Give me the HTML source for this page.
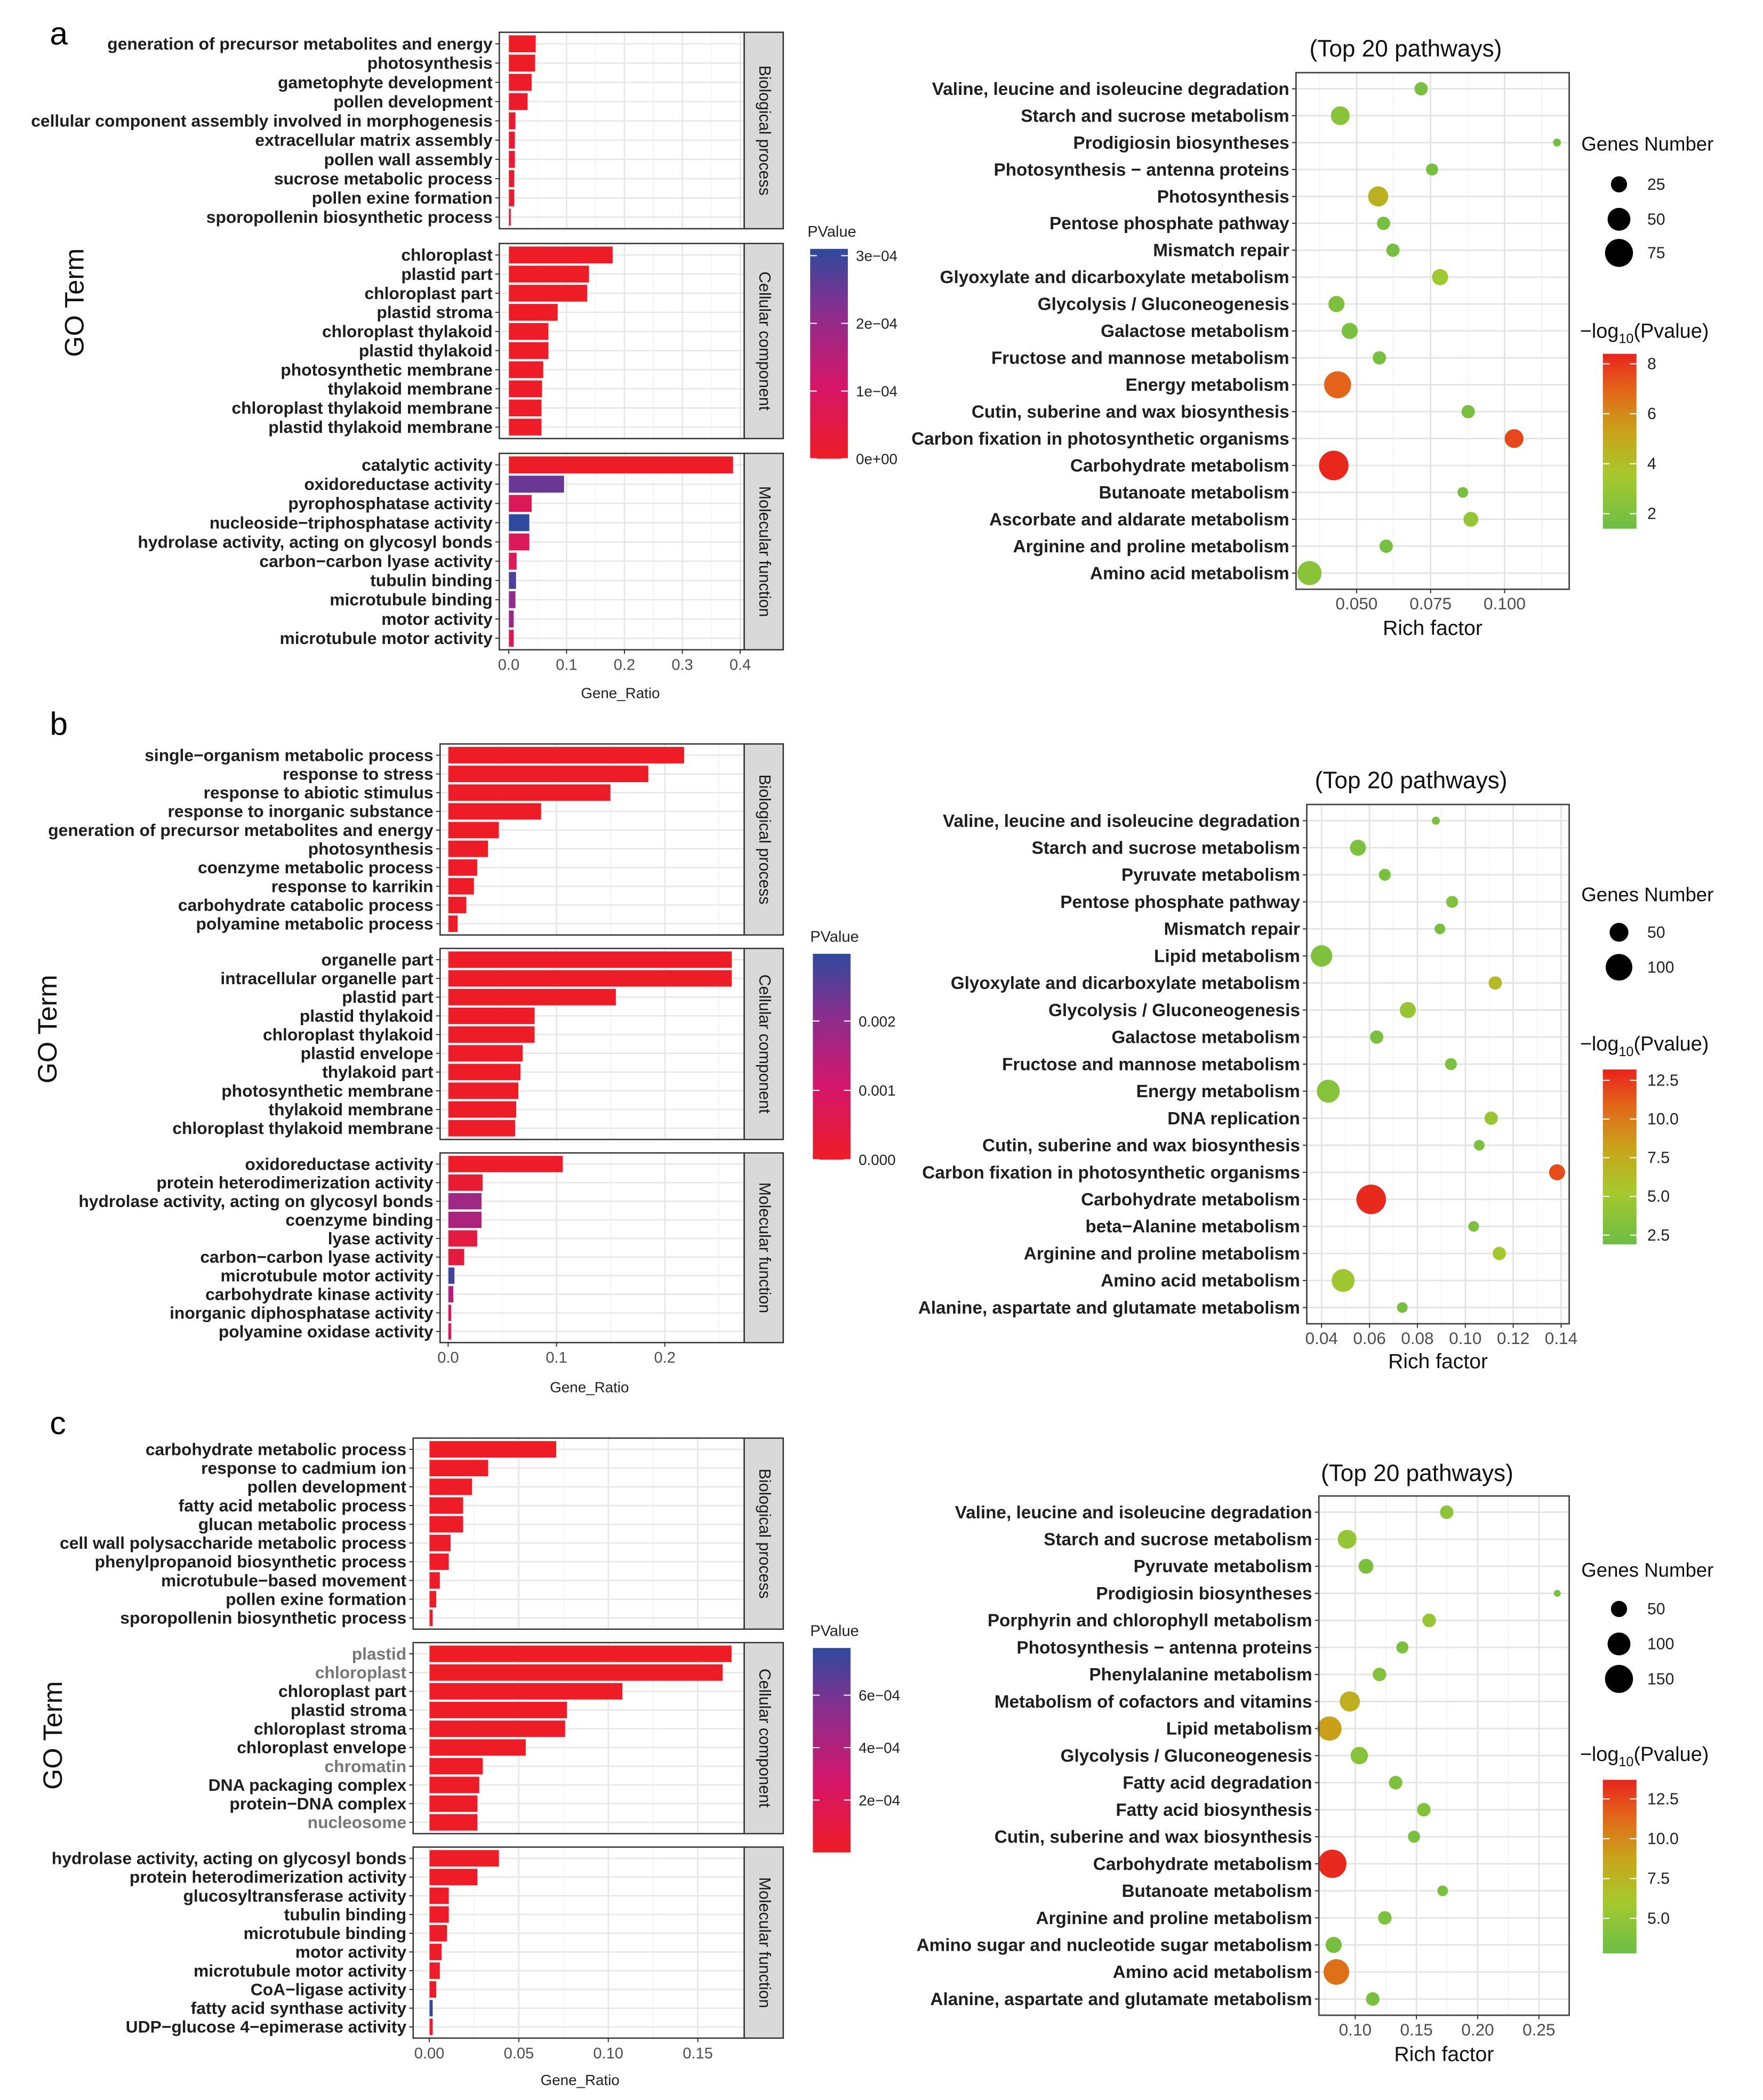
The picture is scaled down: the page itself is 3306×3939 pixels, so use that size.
<!DOCTYPE html>
<html><head><meta charset="utf-8"><style>
html,body{margin:0;padding:0;background:#fff}
svg{display:block}
text{font-family:"Liberation Sans",sans-serif}
</style></head><body>
<svg id="fig" xmlns="http://www.w3.org/2000/svg" width="3306" height="3939" viewBox="0 0 1310 1561" preserveAspectRatio="none">
<defs>
<linearGradient id="pgrad" x1="0" y1="1" x2="0" y2="0">
<stop offset="0" stop-color="#ee1c25"/><stop offset="0.35" stop-color="#d4166a"/><stop offset="0.7" stop-color="#8a2e8e"/><stop offset="1" stop-color="#2e4a9e"/></linearGradient>
<linearGradient id="lgrad" x1="0" y1="1" x2="0" y2="0">
<stop offset="0" stop-color="#6cbd45"/><stop offset="0.3" stop-color="#a6c92d"/><stop offset="0.55" stop-color="#c8a41a"/><stop offset="0.8" stop-color="#e3641a"/><stop offset="1" stop-color="#e8231d"/></linearGradient>
</defs>
<text x="37" y="33" font-size="24">a</text>
<text x="37" y="546" font-size="24">b</text>
<text x="37" y="1066" font-size="24">c</text>
</svg>
<script>
// ---------- Panel a bar data ----------
const aBpTerms=["generation of precursor metabolites and energy","photosynthesis","gametophyte development","pollen development","cellular component assembly involved in morphogenesis","extracellular matrix assembly","pollen wall assembly","sucrose metabolic process","pollen exine formation","sporopollenin biosynthetic process"];
const aBpRatio=[0.047,0.046,0.040,0.033,0.012,0.011,0.011,0.010,0.010,0.004];
const aBpP=[0.000002,0.000003,0.000005,0.00001,0.00002,0.00002,0.00002,0.00002,0.00002,0.00003];
const aCcTerms=["chloroplast","plastid part","chloroplast part","plastid stroma","chloroplast thylakoid","plastid thylakoid","photosynthetic membrane","thylakoid membrane","chloroplast thylakoid membrane","plastid thylakoid membrane"];
const aCcRatio=[0.180,0.139,0.136,0.085,0.069,0.069,0.060,0.058,0.057,0.057];
const aCcP=[0.000001,0.000001,0.000001,0.000002,0.000003,0.000003,0.000004,0.000004,0.000004,0.000004];
const aMfTerms=["catalytic activity","oxidoreductase activity","pyrophosphatase activity","nucleoside\u2212triphosphatase activity","hydrolase activity, acting on glycosyl bonds","carbon\u2212carbon lyase activity","tubulin binding","microtubule binding","motor activity","microtubule motor activity"];
const aMfRatio=[0.388,0.096,0.040,0.036,0.036,0.014,0.013,0.012,0.009,0.009];
const aMfP=[0.000001,0.00025,0.00008,0.00031,0.00008,0.00008,0.00028,0.00021,0.00019,0.00007];
const aBarTicks=[0,0.1,0.2,0.3,0.4];
const aBarTickLabels=["0.0","0.1","0.2","0.3","0.4"];
const aLegTicks=[0.0003,0.0002,0.0001,0];
const aLegLabels=["3e\u221204","2e\u221204","1e\u221204","0e+00"];
// ---------- Panel b bar data ----------
const bBpTerms=["single\u2212organism metabolic process","response to stress","response to abiotic stimulus","response to inorganic substance","generation of precursor metabolites and energy","photosynthesis","coenzyme metabolic process","response to karrikin","carbohydrate catabolic process","polyamine metabolic process"];
const bBpRatio=[0.218,0.185,0.150,0.086,0.047,0.037,0.027,0.024,0.017,0.009];
const bBpP=[0.00001,0.00002,0.00002,0.00003,0.00002,0.00003,0.00004,0.00004,0.00005,0.00006];
const bCcTerms=["organelle part","intracellular organelle part","plastid part","plastid thylakoid","chloroplast thylakoid","plastid envelope","thylakoid part","photosynthetic membrane","thylakoid membrane","chloroplast thylakoid membrane"];
const bCcRatio=[0.262,0.262,0.155,0.080,0.080,0.069,0.067,0.065,0.063,0.062];
const bCcP=[0.00001,0.00001,0.00001,0.00002,0.00002,0.00003,0.00003,0.00003,0.00003,0.00003];
const bMfTerms=["oxidoreductase activity","protein heterodimerization activity","hydrolase activity, acting on glycosyl bonds","coenzyme binding","lyase activity","carbon\u2212carbon lyase activity","microtubule motor activity","carbohydrate kinase activity","inorganic diphosphatase activity","polyamine oxidase activity"];
const bMfRatio=[0.106,0.032,0.031,0.031,0.027,0.015,0.006,0.005,0.003,0.003];
const bMfP=[0.00005,0.0002,0.0018,0.0016,0.0004,0.0004,0.0028,0.0016,0.0008,0.0008];
const bBarTicks=[0,0.1,0.2];
const bBarTickLabels=["0.0","0.1","0.2"];
const bLegTicks=[0.002,0.001,0];
const bLegLabels=["0.002","0.001","0.000"];
// ---------- Panel c bar data ----------
const cBpTerms=["carbohydrate metabolic process","response to cadmium ion","pollen development","fatty acid metabolic process","glucan metabolic process","cell wall polysaccharide metabolic process","phenylpropanoid biosynthetic process","microtubule\u2212based movement","pollen exine formation","sporopollenin biosynthetic process"];
const cBpRatio=[0.071,0.033,0.024,0.019,0.019,0.012,0.011,0.006,0.004,0.002];
const cBpP=[0.000001,0.000003,0.000005,0.000008,0.000008,0.00001,0.00001,0.00002,0.00002,0.00003];
const cCcTerms=["plastid","chloroplast","chloroplast part","plastid stroma","chloroplast stroma","chloroplast envelope","chromatin","DNA packaging complex","protein\u2212DNA complex","nucleosome"];
const cCcRatio=[0.169,0.164,0.108,0.077,0.076,0.054,0.030,0.028,0.027,0.027];
const cCcP=[0.000001,0.000001,0.000002,0.000003,0.000003,0.000004,0.000005,0.000005,0.000005,0.000005];
const cMfTerms=["hydrolase activity, acting on glycosyl bonds","protein heterodimerization activity","glucosyltransferase activity","tubulin binding","microtubule binding","motor activity","microtubule motor activity","CoA\u2212ligase activity","fatty acid synthase activity","UDP\u2212glucose 4\u2212epimerase activity"];
const cMfRatio=[0.039,0.027,0.011,0.011,0.010,0.007,0.006,0.004,0.002,0.002];
const cMfP=[0.000003,0.000005,0.00001,0.00001,0.00001,0.00002,0.00002,0.00003,0.00075,0.00003];
const cBarTicks=[0,0.05,0.1,0.15];
const cBarTickLabels=["0.00","0.05","0.10","0.15"];
const cLegTicks=[0.0006,0.0004,0.0002];
const cLegLabels=["6e\u221204","4e\u221204","2e\u221204"];

// ---------- Dot plot data ----------
const aPathways=["Valine, leucine and isoleucine degradation","Starch and sucrose metabolism","Prodigiosin biosyntheses","Photosynthesis \u2212 antenna proteins","Photosynthesis","Pentose phosphate pathway","Mismatch repair","Glyoxylate and dicarboxylate metabolism","Glycolysis / Gluconeogenesis","Galactose metabolism","Fructose and mannose metabolism","Energy metabolism","Cutin, suberine and wax biosynthesis","Carbon fixation in photosynthetic organisms","Carbohydrate metabolism","Butanoate metabolism","Ascorbate and aldarate metabolism","Arginine and proline metabolism","Amino acid metabolism"];
const aRich=[0.0718,0.0445,0.1177,0.0755,0.0573,0.0591,0.0623,0.0782,0.0432,0.0477,0.0577,0.0436,0.0877,0.1032,0.0423,0.0859,0.0886,0.0600,0.0341];
const aGenes=[17,34,6,14,39,17,17,25,25,25,17,70,17,34,84,11,21,17,56];
const aLogP=[1.8,2.4,1.6,1.8,4.6,1.8,1.8,3.3,2.0,1.9,1.8,7.0,1.9,7.6,8.3,1.8,2.8,1.8,2.5];
const aRichTicks=[0.05,0.075,0.1];
const aRichLabels=["0.050","0.075","0.100"];
const aSizeLeg=[25,50,75];
const aColorTicks=[8,6,4,2];
const bPathways=["Valine, leucine and isoleucine degradation","Starch and sucrose metabolism","Pyruvate metabolism","Pentose phosphate pathway","Mismatch repair","Lipid metabolism","Glyoxylate and dicarboxylate metabolism","Glycolysis / Gluconeogenesis","Galactose metabolism","Fructose and mannose metabolism","Energy metabolism","DNA replication","Cutin, suberine and wax biosynthesis","Carbon fixation in photosynthetic organisms","Carbohydrate metabolism","beta\u2212Alanine metabolism","Arginine and proline metabolism","Amino acid metabolism","Alanine, aspartate and glutamate metabolism"];
const bRich=[0.0877,0.0552,0.0664,0.0945,0.0894,0.0400,0.1125,0.0760,0.0630,0.0940,0.0428,0.1108,0.1058,0.1383,0.0607,0.1035,0.1142,0.0490,0.0737];
const bGenes=[9,36,20,20,16,65,25,36,25,20,74,25,16,36,123,16,25,74,16];
const bLogP=[2.8,2.9,2.7,3.0,2.6,3.0,6.5,4.3,2.7,2.8,3.5,4.5,2.8,11.8,13.0,2.8,5.0,4.8,2.6];
const bRichTicks=[0.04,0.06,0.08,0.10,0.12,0.14];
const bRichLabels=["0.04","0.06","0.08","0.10","0.12","0.14"];
const bSizeLeg=[50,100];
const bColorTicks=[12.5,10,7.5,5,2.5];
const cPathways=["Valine, leucine and isoleucine degradation","Starch and sucrose metabolism","Pyruvate metabolism","Prodigiosin biosyntheses","Porphyrin and chlorophyll metabolism","Photosynthesis \u2212 antenna proteins","Phenylalanine metabolism","Metabolism of cofactors and vitamins","Lipid metabolism","Glycolysis / Gluconeogenesis","Fatty acid degradation","Fatty acid biosynthesis","Cutin, suberine and wax biosynthesis","Carbohydrate metabolism","Butanoate metabolism","Arginine and proline metabolism","Amino sugar and nucleotide sugar metabolism","Amino acid metabolism","Alanine, aspartate and glutamate metabolism"];
const cRich=[0.1747,0.0934,0.1088,0.2650,0.1604,0.1385,0.1198,0.0956,0.0790,0.1033,0.1330,0.1560,0.1480,0.0813,0.1714,0.1242,0.0824,0.0846,0.1143];
const cGenes=[35,68,42,9,35,28,35,78,112,58,35,35,28,153,22,35,50,125,35];
const cLogP=[4.6,5.0,3.6,3.6,5.2,3.6,4.0,8.0,9.0,4.3,3.8,4.0,3.6,13.5,3.6,3.8,3.4,11.0,3.6];
const cRichTicks=[0.10,0.15,0.20,0.25];
const cRichLabels=["0.10","0.15","0.20","0.25"];
const cSizeLeg=[50,100,150];
const cColorTicks=[12.5,10,7.5,5];

const NS="http://www.w3.org/2000/svg";
const svg=document.getElementById('fig');
function mk(tag,attrs,parent){const e=document.createElementNS(NS,tag);for(const k in attrs)e.setAttribute(k,attrs[k]);(parent||svg).appendChild(e);return e;}
function hex(c){return [parseInt(c.slice(1,3),16),parseInt(c.slice(3,5),16),parseInt(c.slice(5,7),16)];}
function ramp(stops,t){t=Math.max(0,Math.min(1,t));for(let i=1;i<stops.length;i++){if(t<=stops[i][0]){const a=stops[i-1],b=stops[i];const f=(t-a[0])/(b[0]-a[0]);const ca=hex(a[1]),cb=hex(b[1]);return 'rgb('+ca.map((v,j)=>Math.round(v+(cb[j]-v)*f)).join(',')+')';}}return stops[stops.length-1][1];}
const pStops=[[0,'#ee1c25'],[0.35,'#d4166a'],[0.7,'#8a2e8e'],[1,'#2e4a9e']];
const lStops=[[0,'#6cbd45'],[0.3,'#a6c92d'],[0.55,'#c8a41a'],[0.8,'#e3641a'],[1,'#e8231d']];
const greyTerms=["plastid","chloroplast","chromatin","nucleosome"];

function barFacet(g,name,strip,terms,ratios,pvals,box,zeroX,ppu,ticks,pmax,showGrey){
  const grp=mk('g',{},g);
  
  
  mk('rect',{x:box.x0,y:box.y0,width:box.x1-box.x0,height:box.y1-box.y0,fill:'#fff'},grp);
  const step=(ticks[1]-ticks[0]);
  for(let v=ticks[0]-step/2;;v+=step/2){const x=zeroX+v*ppu;if(x>box.x1)break;if(x<box.x0)continue;
    const major=Math.abs(Math.round(v/step)*step-v)<1e-9;
    mk('line',{x1:x,x2:x,y1:box.y0,y2:box.y1,stroke:major?'#e6e6e6':'#f2f2f2','stroke-width':major?1:0.6},grp);}
  const h=(box.y1-box.y0)/(terms.length-1+1.2);
  terms.forEach((t,i)=>{
    const y=box.y0+(0.6+i)*h;
    mk('line',{x1:box.x0,x2:box.x1,y1:y,y2:y,stroke:'#e6e6e6','stroke-width':1},grp);
    const r=mk('rect',{x:zeroX,y:y-h*0.45,width:Math.max(0.5,ratios[i]*ppu),height:h*0.9,fill:ramp(pStops,pvals[i]/pmax),stroke:'#fff','stroke-width':0.3},grp);
    
    
    mk('line',{x1:box.x0-3,x2:box.x0,y1:y,y2:y,stroke:'#333','stroke-width':0.8},grp);
    const tx=mk('text',{x:box.x0-5,y:y+4.3,'font-size':12.6,'font-weight':'bold','text-anchor':'end',fill:(showGrey&&greyTerms.includes(t))?'#777':'#1e1e1e'},grp);
    tx.textContent=t;
    
    
  });
  mk('rect',{x:box.x0,y:box.y0,width:box.x1-box.x0,height:box.y1-box.y0,fill:'none',stroke:'#333','stroke-width':1},grp);
  const sx=box.x1, sw=29;
  const sr=mk('rect',{x:sx,y:box.y0,width:sw,height:box.y1-box.y0,fill:'#d9d9d9',stroke:'#333','stroke-width':1},grp);
  
  
  const cy=(box.y0+box.y1)/2, cx=sx+sw/2;
  const st=mk('text',{x:cx,y:cy,'font-size':12,'text-anchor':'middle',fill:'#1a1a1a',transform:'rotate(90 '+cx+' '+cy+')','dominant-baseline':'middle'},grp);
  st.textContent=strip;
  
  
}
function barPanel(id,facets,x0,x1,zeroX,ppu,ticks,tickLabels,pmax,legX,legY0,legY1,legTicks,legLabels,goX,goY,ratioX,ratioY,showGrey){
  const g=mk('g',{});
  
  
  const strips=["Biological process","Cellular component","Molecular function"];
  facets.forEach((f,k)=>barFacet(g,id+'-'+k,strips[k],f[0],f[1],f[2],{x0:x0,x1:x1,y0:f[3],y1:f[4]},zeroX,ppu,ticks,pmax,showGrey));
  const yb=facets[2][4];
  ticks.forEach((v,i)=>{const x=zeroX+v*ppu;
    mk('line',{x1:x,x2:x,y1:yb,y2:yb+3,stroke:'#333','stroke-width':0.8},g);
    const t=mk('text',{x:x,y:yb+15,'font-size':11.5,'text-anchor':'middle',fill:'#4d4d4d'},g);t.textContent=tickLabels[i];
    
    });
  const xt=mk('text',{x:ratioX,y:ratioY,'font-size':11,'text-anchor':'middle',fill:'#222'},g);xt.textContent='Gene_Ratio';
  
  
  const gt=mk('text',{x:goX,y:goY,'font-size':20,'text-anchor':'middle',fill:'#111',transform:'rotate(-90 '+goX+' '+goY+')'},g);gt.textContent='GO Term';
  
  
  const lg=mk('g',{},g);
  
  
  const lt=mk('text',{x:legX-2,y:legY0-9,'font-size':11.5,fill:'#222'},lg);lt.textContent='PValue';
  mk('rect',{x:legX,y:legY0,width:28,height:legY1-legY0,fill:'url(#pgrad)'},lg);
  legTicks.forEach((v,i)=>{const y=legY1-(v/pmax)*(legY1-legY0);
    mk('line',{x1:legX,x2:legX+5,y1:y,y2:y,stroke:'#fff','stroke-width':0.8},lg);
    mk('line',{x1:legX+23,x2:legX+28,y1:y,y2:y,stroke:'#fff','stroke-width':0.8},lg);
    const t=mk('text',{x:legX+34,y:y+4,'font-size':11,fill:'#222'},lg);t.textContent=legLabels[i];});
}
barPanel('a',[[aBpTerms,aBpRatio,aBpP,24,170],[aCcTerms,aCcRatio,aCcP,181,326],[aMfTerms,aMfRatio,aMfP,337,483]],371,553,378,430,aBarTicks,aBarTickLabels,0.00031,602,185,341,aLegTicks,aLegLabels,62,225,461,519,false);
barPanel('b',[[bBpTerms,bBpRatio,bBpP,553,695],[bCcTerms,bCcRatio,bCcP,705,847],[bMfTerms,bMfRatio,bMfP,857,998]],327,553,333,805,bBarTicks,bBarTickLabels,0.00297,604,709,862,bLegTicks,bLegLabels,42,765,438,1035,false);
barPanel('c',[[cBpTerms,cBpRatio,cBpP,1069,1211],[cCcTerms,cCcRatio,cCcP,1221,1363],[cMfTerms,cMfRatio,cMfP,1373,1515]],307,553,319,1330,cBarTicks,cBarTickLabels,0.00078,604,1225,1377,cLegTicks,cLegLabels,46,1290,431,1550,true);

function dotPlot(id,terms,rich,genes,logp,box,v0,x0px,ppu,ticks,tickLabels,sizeK,sizeLeg,sizeLegY,cMin,cMax,cTicks,legX,cLegY0,cLegY1,titleY,rfY,gnY,lpY,cTickFmt){
  const g=mk('g',{});
  
  
  const X=v=>x0px+(v-v0)*ppu;
  mk('rect',{x:box.x0,y:box.y0,width:box.x1-box.x0,height:box.y1-box.y0,fill:'#fff'},g);
  const step=ticks[1]-ticks[0];
  for(let v=ticks[0]-step*1.5;v<ticks[ticks.length-1]+step*2;v+=step/2){const x=X(v);if(x<box.x0||x>box.x1)continue;
    const major=Math.abs(Math.round((v-ticks[0])/step)*step-(v-ticks[0]))<1e-9;
    mk('line',{x1:x,x2:x,y1:box.y0,y2:box.y1,stroke:major?'#e3e3e3':'#f1f1f1','stroke-width':major?1.1:0.6},g);}
  const h=(box.y1-box.y0)/(terms.length-1+1.2);
  terms.forEach((t,i)=>{const y=box.y0+(0.6+i)*h;
    mk('line',{x1:box.x0,x2:box.x1,y1:y,y2:y,stroke:'#e3e3e3','stroke-width':1.1},g);
    mk('line',{x1:box.x0-3,x2:box.x0,y1:y,y2:y,stroke:'#333','stroke-width':0.8},g);
    const tx=mk('text',{x:box.x0-5,y:y+4.5,'font-size':13.2,'font-weight':'bold','text-anchor':'end',fill:'#1e1e1e'},g);tx.textContent=t;
    
    });
  terms.forEach((t,i)=>{const y=box.y0+(0.6+i)*h;
    const c=mk('circle',{cx:X(rich[i]),cy:y,r:sizeK*Math.sqrt(genes[i]),fill:ramp(lStops,(logp[i]-cMin)/(cMax-cMin))},g);
    
    });
  mk('rect',{x:box.x0,y:box.y0,width:box.x1-box.x0,height:box.y1-box.y0,fill:'none',stroke:'#444','stroke-width':1.1},g);
  ticks.forEach((v,i)=>{const x=X(v);
    mk('line',{x1:x,x2:x,y1:box.y1,y2:box.y1+3,stroke:'#333','stroke-width':0.8},g);
    const t=mk('text',{x:x,y:box.y1+15,'font-size':12.5,'text-anchor':'middle',fill:'#4d4d4d'},g);t.textContent=tickLabels[i];
    
    });
  const cx=(box.x0+box.x1)/2;
  const ti=mk('text',{x:cx-20,y:titleY,'font-size':17.5,'text-anchor':'middle',fill:'#111'},g);ti.textContent='(Top 20 pathways)';
  
  
  const rf=mk('text',{x:cx,y:rfY,'font-size':15.5,'text-anchor':'middle',fill:'#111'},g);rf.textContent='Rich factor';
  
  
  const gl=mk('g',{},g);
  
  
  const gn=mk('text',{x:legX-16,y:gnY,'font-size':14.5,fill:'#111'},gl);gn.textContent='Genes Number';
  sizeLeg.forEach((n,i)=>{const y=sizeLegY[i];
    mk('circle',{cx:legX+12,cy:y,r:sizeK*Math.sqrt(n),fill:'#000'},gl);
    const t=mk('text',{x:legX+33,y:y+4,'font-size':12,fill:'#222'},gl);t.textContent=String(n);});
  const cl=mk('g',{},g);
  
  
  const lp=mk('text',{x:legX-17,y:lpY,'font-size':15,fill:'#111'},cl);
  lp.innerHTML='\u2212log<tspan font-size="10" dy="4">10</tspan><tspan dy="-4">(Pvalue)</tspan>';
  mk('rect',{x:legX,y:cLegY0,width:25,height:cLegY1-cLegY0,fill:'url(#lgrad)'},cl);
  cTicks.forEach(v=>{const y=cLegY1-(v-cMin)/(cMax-cMin)*(cLegY1-cLegY0);
    mk('line',{x1:legX,x2:legX+5,y1:y,y2:y,stroke:'#fff','stroke-width':0.8},cl);
    mk('line',{x1:legX+20,x2:legX+25,y1:y,y2:y,stroke:'#fff','stroke-width':0.8},cl);
    const t=mk('text',{x:legX+33,y:y+4,'font-size':12,fill:'#222'},cl);t.textContent=cTickFmt?v.toFixed(1):String(v);});
}
dotPlot('a',aPathways,aRich,aGenes,aLogP,{x0:963,x1:1166,y0:54,y1:438},0.05,1008,2200,aRichTicks,aRichLabels,1.2,aSizeLeg,[137,163,188],1.4,8.4,aColorTicks,1191,263,393,42,472,112,251,false);
dotPlot('b',bPathways,bRich,bGenes,bLogP,{x0:971,x1:1166,y0:598,y1:984},0.04,982,1780,bRichTicks,bRichLabels,0.99,bSizeLeg,[693,719],1.9,13.2,bColorTicks,1191,795,925,586,1017,670,781,true);
dotPlot('c',cPathways,cRich,cGenes,cLogP,{x0:980,x1:1166,y0:1112,y1:1498},0.10,1007,910,cRichTicks,cRichLabels,0.85,cSizeLeg,[1196,1222,1248],2.8,13.7,cColorTicks,1191,1323,1452,1101,1532,1172,1309,true);
</script>
</body></html>
